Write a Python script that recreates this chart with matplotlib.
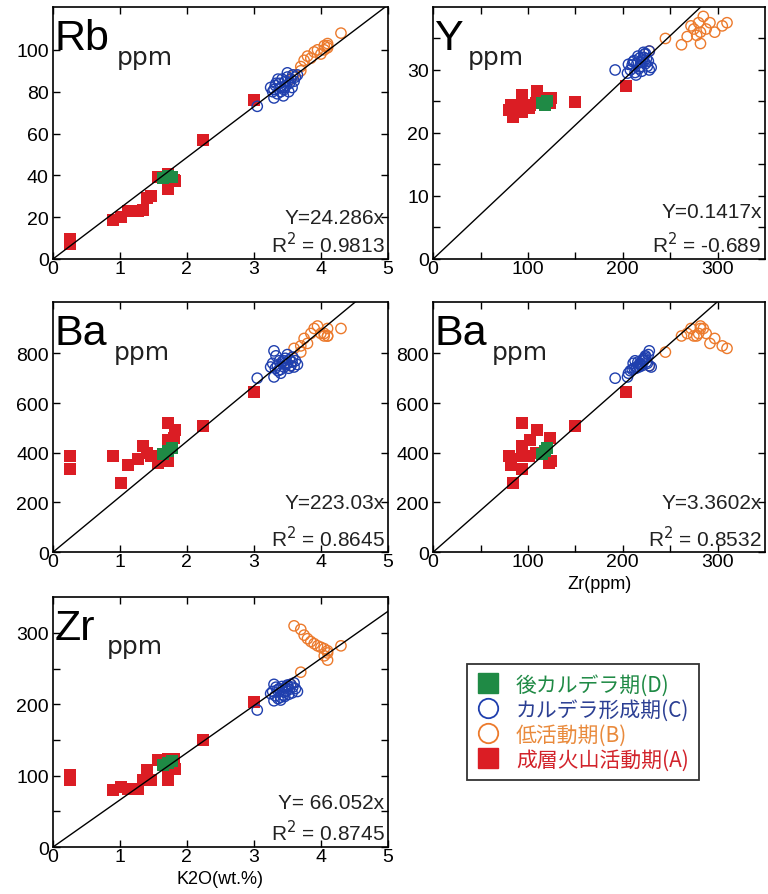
import matplotlib
matplotlib.use("Agg")
import matplotlib.pyplot as plt
from matplotlib.lines import Line2D

plt.rcParams["font.family"] = ["Liberation Sans", "DejaVu Sans"]

# Sample data
# (A) stratovolcano stage - red squares
k2o_A = [0.25, 0.25, 0.90, 1.01, 1.12, 1.27, 1.35, 1.40, 1.47, 1.57, 1.72, 1.72, 1.72, 1.82, 1.80, 2.24, 3.00]
rb_A = [9.8, 7.3, 18.7, 20.3, 22.8, 22.8, 23.6, 29.3, 30.0, 39.0, 40.7, 33.3, 37.0, 37.4, 38.0, 57.0, 76.0]
ba_A = [387, 336, 387, 280, 351, 373, 427, 400, 387, 360, 520, 453, 367, 493, 460, 507, 645]
zr_A = [101, 94, 80, 84, 82, 82, 94, 108, 94, 122, 94, 102, 124, 110, 123, 150, 203]
y_A = [24.0, 23.4, 23.6, 22.6, 24.4, 23.8, 26.0, 24.7, 24.4, 25.5, 26.0, 24.4, 25.5, 26.6, 24.8, 24.9, 27.4]

# (B) low activity stage - orange circles
k2o_B = [3.60, 3.70, 3.75, 3.80, 3.85, 3.90, 3.95, 4.00, 4.05, 4.10, 4.10, 4.05, 4.10, 4.30, 3.70, 3.55]
rb_B = [88, 92, 95, 97, 96, 99, 100, 98, 102, 103, 101, 100, 102, 108, 90, 86]
ba_B = [820, 830, 860, 840, 880, 900, 910, 880, 870, 870, 900, 880, 870, 900, 805, 750]
zr_B = [310, 305, 297, 292, 288, 285, 282, 280, 278, 275, 272, 268, 262, 282, 245, 228]
y_B = [37.5, 37.0, 36.0, 37.5, 36.5, 38.5, 34.2, 37.5, 35.5, 36.5, 37.0, 35.3, 34.0, 36.0, 35.0, 33.0]

# (C) caldera forming stage - blue circles
k2o_C = [3.05, 3.30, 3.30, 3.25, 3.28, 3.32, 3.35, 3.38, 3.40, 3.42, 3.45, 3.47, 3.48, 3.50,
         3.52, 3.53, 3.55, 3.57, 3.58, 3.60, 3.36, 3.44, 3.62, 3.50, 3.40, 3.65, 3.33, 3.46]
rb_C = [73, 77, 81, 82, 80, 83, 79, 84, 82, 86, 81, 85, 83, 87,
        80, 84, 86, 82, 88, 85, 86, 78, 87, 89, 80, 88, 84, 82]
ba_C = [700, 705, 810, 745, 760, 740, 750, 770, 735, 765, 745, 780, 755, 760,
        740, 775, 750, 765, 785, 745, 730, 770, 770, 795, 720, 755, 790, 760]
zr_C = [192, 205, 228, 215, 218, 212, 220, 222, 210, 225, 217, 223, 219, 226,
        214, 221, 228, 216, 224, 230, 208, 213, 222, 227, 206, 218, 224, 211]
y_C = [30.0, 29.5, 33.0, 31.0, 30.5, 31.5, 29.8, 32.0, 30.8, 31.8, 30.2, 32.5, 31.2, 30.6,
       29.2, 31.6, 30.0, 32.2, 31.0, 30.4, 30.0, 29.6, 32.8, 31.4, 30.9, 31.9, 32.6, 31.3]

# (D) post caldera stage - green squares
k2o_D = [1.65, 1.72, 1.78]
rb_D = [38.5, 39.5, 39.0]
ba_D = [395, 405, 420]
zr_D = [115, 118, 120]
y_D = [24.8, 24.5, 25.0]

stage_labels = ["後カルデラ期(D)", "カルデラ形成期(C)", "低活動期(B)", "成層火山活動期(A)"]
red = "#db1d24"
orange = "#ec7a2c"
blue = "#1f3fae"
green = "#1f8a45"
label_colors = ["#1f8a45", "#2b3f93", "#e98a3c", "#d2232b"]

data = {
    "A": {"K2O": k2o_A, "Rb": rb_A, "Ba": ba_A, "Zr": zr_A, "Y": y_A},
    "B": {"K2O": k2o_B, "Rb": rb_B, "Ba": ba_B, "Zr": zr_B, "Y": y_B},
    "C": {"K2O": k2o_C, "Rb": rb_C, "Ba": ba_C, "Zr": zr_C, "Y": y_C},
    "D": {"K2O": k2o_D, "Rb": rb_D, "Ba": ba_D, "Zr": zr_D, "Y": y_D},
}


def panel(ax, xkey, ykey, xlim, ylim, xticks, xminor, yticks, yminor,
          slope, eq, r2, ppm_x, eq_y=0.18):
    # stratovolcano first, then B, C, D on top
    ax.scatter(data["A"][xkey], data["A"][ykey], marker="s", s=78, color=red,
               linewidths=0, zorder=3)
    ax.scatter(data["B"][xkey], data["B"][ykey], marker="o", s=55, facecolors="none",
               edgecolors=orange, linewidths=1.0, zorder=3)
    ax.scatter(data["C"][xkey], data["C"][ykey], marker="o", s=55, facecolors="none",
               edgecolors=blue, linewidths=1.0, zorder=4)
    ax.scatter(data["D"][xkey], data["D"][ykey], marker="s", s=78, color=green,
               linewidths=0, zorder=5)

    # regression line through origin
    ax.plot([0, xlim[1]], [0, slope * xlim[1]], color="black", linewidth=1.0, zorder=6)

    ax.set_xlim(xlim)
    ax.set_ylim(ylim)
    ax.set_xticks(xticks)
    ax.set_xticks(xminor, minor=True)
    ax.set_yticks(yticks)
    ax.set_yticks(yminor, minor=True)
    ax.tick_params(which="both", direction="in", top=True, right=True,
                   length=5, width=1.0, labelsize=14)
    ax.tick_params(axis="x", pad=1)
    ax.tick_params(axis="y", pad=3)
    for sp in ax.spines.values():
        sp.set_linewidth(1.2)

    ax.text(0.005, 0.835, ykey, transform=ax.transAxes, fontsize=31,
            ha="left", va="baseline")
    ax.text(ppm_x, 0.775, "ppm", transform=ax.transAxes, fontsize=18,
            family=["DejaVu Sans"], ha="left", va="baseline", color="#222222")
    ax.text(0.99, eq_y, eq, transform=ax.transAxes, fontsize=15,
            ha="right", va="center", color="#222222")
    ax.text(0.99, 0.06, "R$^2$ = " + r2, transform=ax.transAxes, fontsize=15,
            ha="right", va="center", color="#222222")


fig = plt.figure(figsize=(7.68, 8.95), dpi=100)

ax_rb = fig.add_axes([0.069, 0.7095, 0.436, 0.2816])
ax_y = fig.add_axes([0.564, 0.7095, 0.432, 0.2816])
ax_ba1 = fig.add_axes([0.069, 0.382, 0.436, 0.279])
ax_ba2 = fig.add_axes([0.564, 0.382, 0.432, 0.279])
ax_zr = fig.add_axes([0.069, 0.0525, 0.436, 0.279])

k2o_ticks = [0, 1, 2, 3, 4, 5]

panel(ax_rb, "K2O", "Rb", (0, 5), (0, 120.5), k2o_ticks, [],
      [0, 20, 40, 60, 80, 100], [], 24.286, "Y=24.286x", "0.9813", 0.19, eq_y=0.163)
panel(ax_y, "Zr", "Y", (0, 350), (0, 40), [0, 100, 200, 300], [50, 150, 250],
      [0, 10, 20, 30], [5, 15, 25, 35], 0.1417, "Y=0.1417x", "-0.689", 0.105, eq_y=0.19)
panel(ax_ba1, "K2O", "Ba", (0, 5), (0, 1005), k2o_ticks, [],
      [0, 200, 400, 600, 800], [], 223.03, "Y=223.03x", "0.8645", 0.18, eq_y=0.2)
panel(ax_ba2, "Zr", "Ba", (0, 350), (0, 1005), [0, 100, 200, 300], [50, 150, 250],
      [0, 200, 400, 600, 800], [], 3.3602, "Y=3.3602x", "0.8532", 0.178, eq_y=0.2)
panel(ax_zr, "K2O", "Zr", (0, 5), (0, 350), k2o_ticks, [],
      [0, 100, 200, 300], [50, 150, 250], 66.052, "Y= 66.052x", "0.8745", 0.16, eq_y=0.18)

ax_ba2.set_xlabel("Zr(ppm)", fontsize=13, labelpad=3)
ax_zr.set_xlabel("K2O(wt.%)", fontsize=13, labelpad=3)

# Legend
handles = [
    Line2D([], [], linestyle="none", marker="s", markersize=15, color=green),
    Line2D([], [], linestyle="none", marker="o", markersize=14, markerfacecolor="none",
           markeredgecolor=blue, markeredgewidth=1.3),
    Line2D([], [], linestyle="none", marker="o", markersize=14, markerfacecolor="none",
           markeredgecolor=orange, markeredgewidth=1.3),
    Line2D([], [], linestyle="none", marker="s", markersize=15, color=red),
]
leg = fig.legend(handles, stage_labels, loc="upper left", bbox_to_anchor=(0.608, 0.257),
                 prop={"family": ["Noto Sans CJK JP"], "size": 15},
                 labelcolor=label_colors, frameon=True, fancybox=False,
                 edgecolor="black", borderpad=0.45, labelspacing=0.15,
                 handletextpad=0.8, handlelength=1.1, borderaxespad=0)
leg.get_frame().set_linewidth(1.3)

plt.savefig("out.png", dpi=100)
